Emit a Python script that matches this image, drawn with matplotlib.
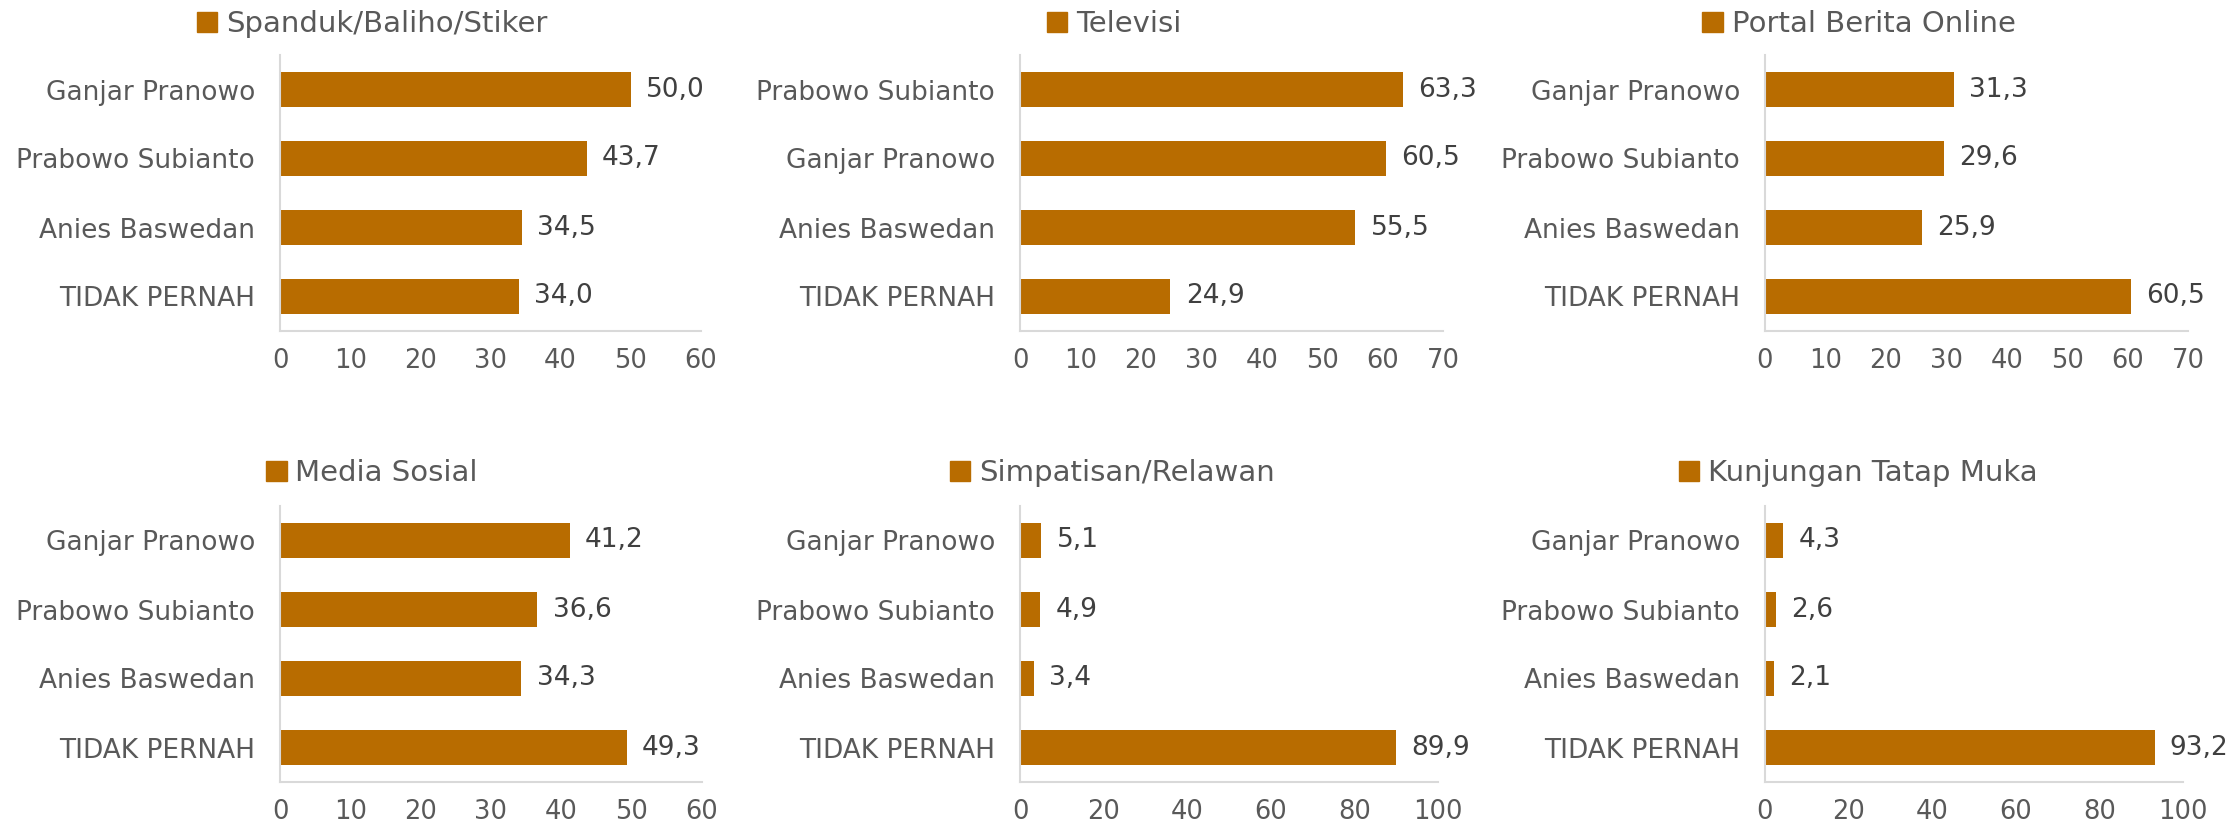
import matplotlib.pyplot as plt
from matplotlib.patches import Patch

titles = ['Spanduk/Baliho/Stiker', 'Televisi', 'Portal Berita Online',
          'Media Sosial', 'Simpatisan/Relawan', 'Kunjungan Tatap Muka']

cats_spanduk = ['Ganjar Pranowo', 'Prabowo Subianto', 'Anies Baswedan', 'TIDAK PERNAH']
vals_spanduk = [50.0, 43.7, 34.5, 34.0]

cats_tv = ['Prabowo Subianto', 'Ganjar Pranowo', 'Anies Baswedan', 'TIDAK PERNAH']
vals_tv = [63.3, 60.5, 55.5, 24.9]

cats_portal = ['Ganjar Pranowo', 'Prabowo Subianto', 'Anies Baswedan', 'TIDAK PERNAH']
vals_portal = [31.3, 29.6, 25.9, 60.5]

cats_medsos = ['Ganjar Pranowo', 'Prabowo Subianto', 'Anies Baswedan', 'TIDAK PERNAH']
vals_medsos = [41.2, 36.6, 34.3, 49.3]

cats_relawan = ['Ganjar Pranowo', 'Prabowo Subianto', 'Anies Baswedan', 'TIDAK PERNAH']
vals_relawan = [5.1, 4.9, 3.4, 89.9]

cats_tatap = ['Ganjar Pranowo', 'Prabowo Subianto', 'Anies Baswedan', 'TIDAK PERNAH']
vals_tatap = [4.3, 2.6, 2.1, 93.2]

x_max = [60, 70, 70, 60, 100, 100]
x_step = [10, 10, 10, 10, 20, 20]

bar_color = '#B86C00'
text_grey = '#595959'
spine_grey = '#D9D9D9'

plt.rcParams['font.family'] = ['DejaVu Sans']

W, H = 2226, 825
fig = plt.figure(figsize=(W / 100, H / 100), dpi=100)

# axes rectangles in pixels: left, right, top, bottom
boxes = [(280, 701, 55, 331), (1020, 1443, 55, 331), (1765, 2188, 55, 331),
         (280, 702, 506, 782), (1020, 1438, 506, 782), (1765, 2183, 506, 782)]
legend_pos = [(372, 24), (1114, 24), (1859, 24), (372, 473), (1112, 473), (1858, 473)]

all_cats = [cats_spanduk, cats_tv, cats_portal, cats_medsos, cats_relawan, cats_tatap]
all_vals = [vals_spanduk, vals_tv, vals_portal, vals_medsos, vals_relawan, vals_tatap]

for i in range(6):
    l, r, t, b = boxes[i]
    ax = fig.add_axes([l / W, 1 - b / H, (r - l) / W, (b - t) / H])
    cats = all_cats[i]
    vals = all_vals[i]
    y = list(range(len(cats)))
    ax.barh(y, vals, height=0.5, color=bar_color)
    ax.set_ylim(len(cats) - 0.5, -0.5)
    ax.set_xlim(0, x_max[i])
    ax.set_xticks(range(0, x_max[i] + 1, x_step[i]))
    ax.set_yticks(y)
    ax.set_yticklabels(cats)
    ax.tick_params(axis='y', length=0, pad=18, labelsize=19, labelcolor=text_grey)
    ax.tick_params(axis='x', length=0, pad=12, labelsize=18.5, labelcolor=text_grey)
    for s in ['top', 'right']:
        ax.spines[s].set_visible(False)
    for s in ['left', 'bottom']:
        ax.spines[s].set_color(spine_grey)
        ax.spines[s].set_linewidth(1.5)
    for yy, v in zip(y, vals):
        ax.annotate(f'{v:.1f}'.replace('.', ','), (v, yy), xytext=(11, 0),
                    textcoords='offset points', va='center', ha='left',
                    fontsize=19, color='#404040')
    lx, ly = legend_pos[i]
    ax.legend(handles=[Patch(color=bar_color, label=titles[i])], loc='center',
              bbox_to_anchor=(lx / W, 1 - ly / H), bbox_transform=fig.transFigure,
              frameon=False, fontsize=21, labelcolor=text_grey,
              handlelength=0.7, handleheight=0.7, handletextpad=0.3,
              borderpad=0, borderaxespad=0)

fig.savefig('out.png', dpi=100)
